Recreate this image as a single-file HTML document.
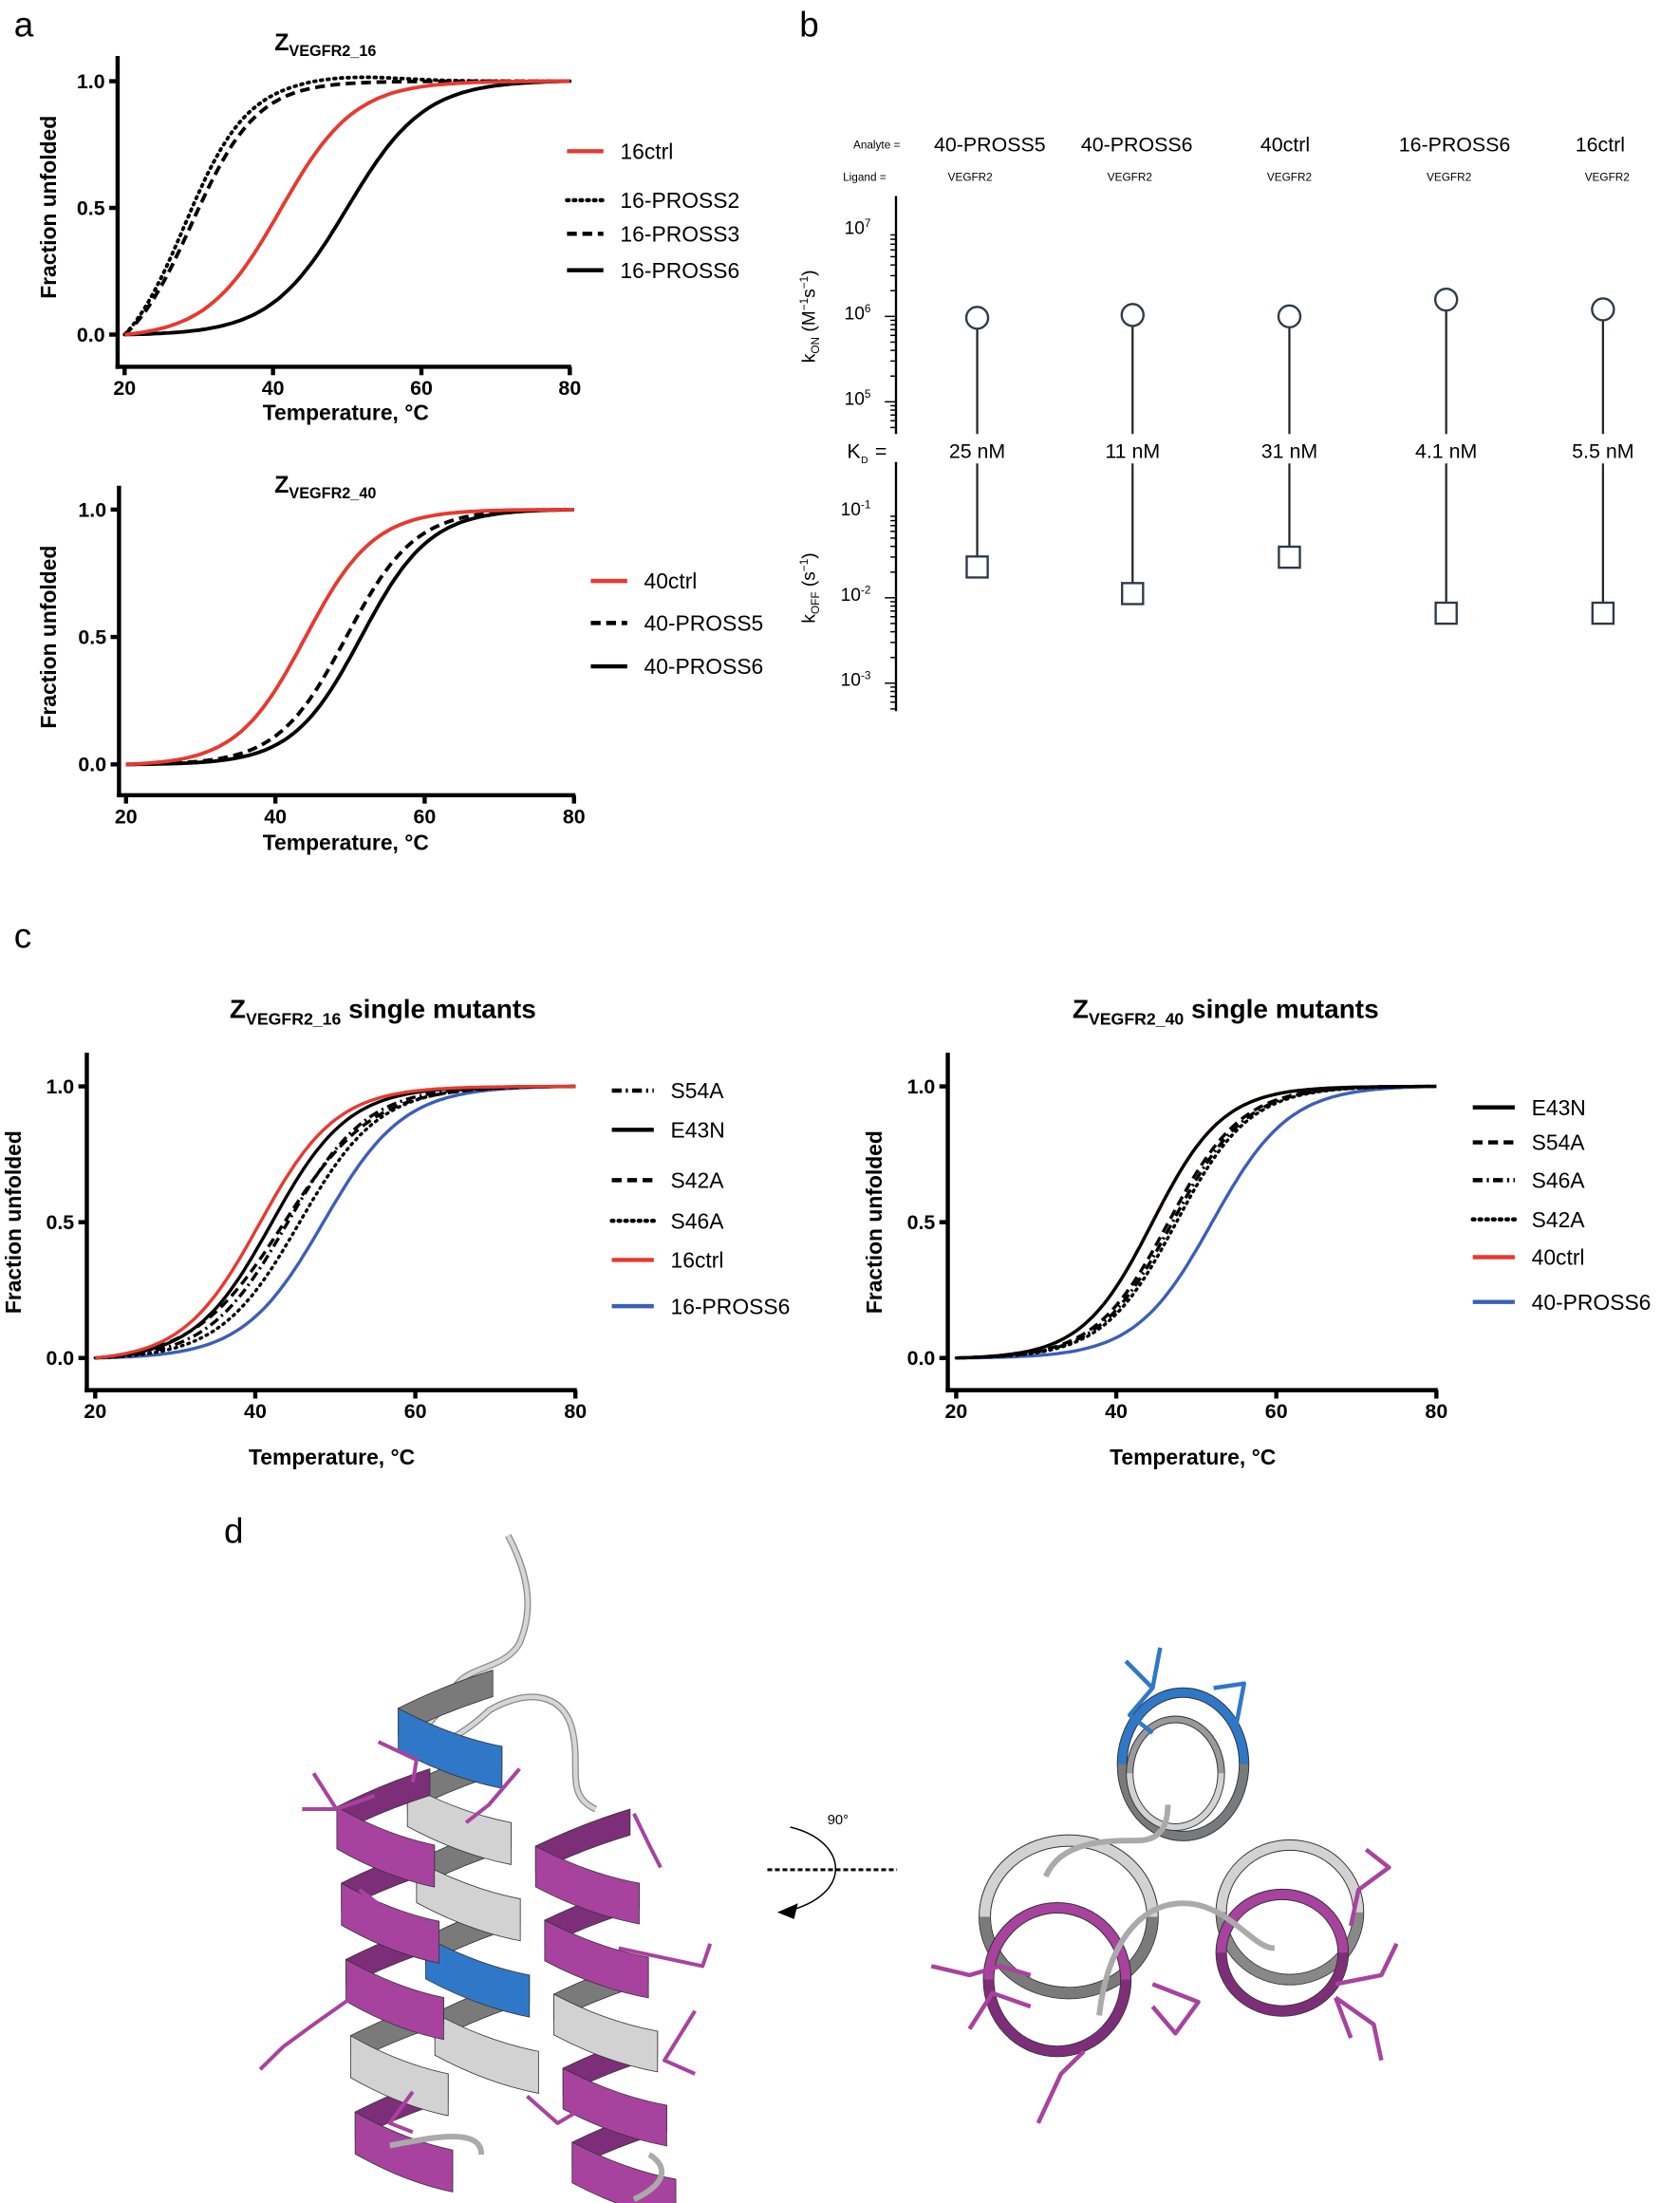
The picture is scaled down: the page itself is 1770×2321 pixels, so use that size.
<!DOCTYPE html>
<html><head><meta charset="utf-8"><style>
html,body{margin:0;padding:0;background:#fff}
svg{display:block}
text{font-family:"Liberation Sans",Arial,sans-serif}
.tk{font-size:14.5px;font-weight:bold}
.at{font-size:15.5px;font-weight:bold}
.lg{font-size:15.5px}
.pl{font-size:25px}
.bn{font-size:14.5px}
.sm{font-size:8px}
.bt{font-size:13px}
</style></head><body>
<svg id="s" width="1770" height="2321" viewBox="0 0 1200 1573.6" xmlns="http://www.w3.org/2000/svg">
<rect width="1200" height="1574" fill="#fff"/>
<text class="pl" x="10" y="26">a</text>
<text class="pl" x="571" y="26">b</text>
<text class="pl" x="10" y="677">c</text>
<text class="pl" x="160" y="1102">d</text>

<text x="196" y="36" style="font-size:17px;font-weight:bold">Z<tspan style="font-size:11px" dy="4">VEGFR2_16</tspan></text>
<text class="at" transform="translate(40,148) rotate(-90)" text-anchor="middle">Fraction unfolded</text>
<text class="at" x="247" y="300" text-anchor="middle">Temperature, °C</text>
<text x="196" y="352" style="font-size:17px;font-weight:bold">Z<tspan style="font-size:11px" dy="4">VEGFR2_40</tspan></text>
<text class="at" transform="translate(40,455) rotate(-90)" text-anchor="middle">Fraction unfolded</text>
<text class="at" x="247" y="607" text-anchor="middle">Temperature, °C</text>

<text x="164" y="727" style="font-size:19px;font-weight:bold">Z<tspan style="font-size:12px" dy="5">VEGFR2_16</tspan><tspan dy="-5"> single mutants</tspan></text>
<text x="766" y="727" style="font-size:19px;font-weight:bold">Z<tspan style="font-size:12px" dy="5">VEGFR2_40</tspan><tspan dy="-5"> single mutants</tspan></text>
<text class="at" transform="translate(15,873) rotate(-90)" text-anchor="middle">Fraction unfolded</text>
<text class="at" x="237" y="1046" text-anchor="middle">Temperature, °C</text>
<text class="at" transform="translate(630,873) rotate(-90)" text-anchor="middle">Fraction unfolded</text>
<text class="at" x="852" y="1046" text-anchor="middle">Temperature, °C</text>

<g id="plots"></g>
<g id="pb"></g>
<g id="pd"></g>
</svg>
<script>
var NS="http://www.w3.org/2000/svg";
function el(p,t,a,txt){var e=document.createElementNS(NS,t);for(var k in a)e.setAttribute(k,a[k]);if(txt!==undefined)e.textContent=txt;p.appendChild(e);return e;}
var G=document.getElementById('plots');
var styles={solid:"",dot:"1.2 3.6",dash:"7 4",dashdot:"7 3 1.5 3"};
function sig(T,tm,w){return 1/(1+Math.exp(-(T-tm)/w));}
function plot(o){
  var X=function(t){return o.x20+(t-20)*(o.x80-o.x20)/60;};
  var Y=function(f){return o.y0+(o.y1-o.y0)*f;};
  el(G,'line',{x1:o.ax,y1:o.ytop,x2:o.ax,y2:o.axy+1.5,stroke:'#000','stroke-width':3});
  el(G,'line',{x1:o.ax-1.5,y1:o.axy,x2:o.x80+1,y2:o.axy,stroke:'#000','stroke-width':3});
  [0,0.5,1].forEach(function(f){var y=Y(f);el(G,'line',{x1:o.ax-6,y1:y,x2:o.ax,y2:y,stroke:'#000','stroke-width':3});
    el(G,'text',{class:'tk',x:o.ax-9,y:y+5,'text-anchor':'end'},f.toFixed(1));});
  [20,40,60,80].forEach(function(t){var x=X(t);el(G,'line',{x1:x,y1:o.axy,x2:x,y2:o.axy+6,stroke:'#000','stroke-width':3});
    el(G,'text',{class:'tk',x:x,y:o.axy+20,'text-anchor':'middle'},t);});
  o.series.forEach(function(s){
    var a=sig(20,s.tm,s.w),b=sig(80,s.tm,s.w),d="";
    for(var t=20;t<=80.01;t+=0.5){var f=(sig(t,s.tm,s.w)-a)/(b-a);
      if(s.ov){f+=s.ov*Math.exp(-Math.pow((t-s.tm-22)/10,2));}
      d+=(t==20?"M":"L")+X(t).toFixed(1)+","+Y(f).toFixed(1);}
    el(G,'path',{d:d,fill:'none',stroke:s.c||'#000','stroke-width':o.lw,'stroke-dasharray':styles[s.st],'stroke-linecap':s.st=='dot'?'round':'butt'});
  });
  o.leg.forEach(function(l){
    el(G,'line',{x1:l.x,y1:l.y,x2:l.x+o.ll,y2:l.y,stroke:l.c||'#000','stroke-width':3,'stroke-dasharray':styles[l.st],'stroke-linecap':l.st=='dot'?'round':'butt'});
    el(G,'text',{class:'lg',x:l.x+o.ll+12,y:l.y+5.5},l.t);
  });
}
var R='#e8392f',B='#3b5fb8';
plot({ax:84,ytop:40,axy:262,x20:89,x80:407,y0:239,y1:58,lw:2.6,ll:26,
 series:[{tm:50,w:5.2,st:'solid'},{tm:28,w:4.2,st:'dot',ov:0.02},{tm:29,w:4.4,st:'dash'},{tm:41,w:5,st:'solid',c:R}],
 leg:[{x:405,y:108,t:'16ctrl',c:R,st:'solid'},{x:405,y:143,t:'16-PROSS2',st:'dot'},{x:405,y:167,t:'16-PROSS3',st:'dash'},{x:405,y:193,t:'16-PROSS6',st:'solid'}]});
plot({ax:85,ytop:347,axy:568,x20:90,x80:410,y0:546,y1:364,lw:2.6,ll:26,
 series:[{tm:51.5,w:4.6,st:'solid'},{tm:49.5,w:4.6,st:'dash'},{tm:44,w:4.6,st:'solid',c:R}],
 leg:[{x:422,y:415,t:'40ctrl',c:R,st:'solid'},{x:422,y:445,t:'40-PROSS5',st:'dash'},{x:422,y:476,t:'40-PROSS6',st:'solid'}]});
plot({ax:62,ytop:752,axy:993,x20:68,x80:411,y0:970,y1:776,lw:2.3,ll:30,
 series:[{tm:48.5,w:5,st:'solid',c:B},{tm:45.5,w:5,st:'dot'},{tm:43.5,w:5.6,st:'dash'},{tm:44,w:5,st:'dashdot'},{tm:42,w:4.8,st:'solid'},{tm:40.5,w:4.8,st:'solid',c:R}],
 leg:[{x:437,y:779,t:'S54A',st:'dashdot'},{x:437,y:807,t:'E43N',st:'solid'},{x:437,y:843,t:'S42A',st:'dash'},{x:437,y:872,t:'S46A',st:'dot'},{x:437,y:900,t:'16ctrl',c:R,st:'solid'},{x:437,y:933,t:'16-PROSS6',c:B,st:'solid'}]});
plot({ax:677,ytop:752,axy:993,x20:683,x80:1026,y0:970,y1:776,lw:2.3,ll:30,
 series:[{tm:52,w:4.8,st:'solid',c:B},{tm:47.5,w:4.6,st:'dot'},{tm:47,w:4.6,st:'dashdot'},{tm:46.5,w:4.6,st:'dash'},{tm:44.5,w:4.4,st:'solid',c:R},{tm:44.5,w:4.4,st:'solid'}],
 leg:[{x:1052,y:791,t:'E43N',st:'solid'},{x:1052,y:816,t:'S54A',st:'dash'},{x:1052,y:843,t:'S46A',st:'dashdot'},{x:1052,y:871,t:'S42A',st:'dot'},{x:1052,y:898,t:'40ctrl',c:R,st:'solid'},{x:1052,y:930,t:'40-PROSS6',c:B,st:'solid'}]});

// panel b
var P=document.getElementById('pb');
el(P,'text',{class:'sm',x:643,y:106,'text-anchor':'end'},'Analyte =');
el(P,'text',{class:'sm',x:633,y:129,'text-anchor':'end'},'Ligand =');
var xs=[698,809,921,1033,1145],names=['40-PROSS5','40-PROSS6','40ctrl','16-PROSS6','16ctrl'],nx=[707,812,918,1039,1143],
 cy=[227,225,226,214,221],sq=[405,424,398,438,438],kd=['25 nM','11 nM','31 nM','4.1 nM','5.5 nM'],lx=[693,807,921,1035,1148];
for(var i=0;i<5;i++){
 el(P,'text',{class:'bn',x:nx[i],y:108,'text-anchor':'middle'},names[i]);
 el(P,'text',{class:'sm',x:lx[i],y:129,'text-anchor':'middle'},'VEGFR2');
 el(P,'text',{class:'bn',x:xs[i],y:327,'text-anchor':'middle'},kd[i]);
 el(P,'line',{x1:xs[i],y1:cy[i]+8,x2:xs[i],y2:310,stroke:'#222','stroke-width':1.5});
 el(P,'line',{x1:xs[i],y1:331,x2:xs[i],y2:sq[i]-7.5,stroke:'#222','stroke-width':1.5});
 el(P,'circle',{cx:xs[i],cy:cy[i],r:7.8,fill:'#fff',stroke:'#2d3a4a','stroke-width':1.6});
 el(P,'rect',{x:xs[i]-7.5,y:sq[i]-7.5,width:15,height:15,fill:'#fff',stroke:'#2d3a4a','stroke-width':1.6});
}
el(P,'text',{class:'bn',x:605,y:327},'K');
el(P,'text',{style:'font-size:7px',x:615,y:331},'D');
el(P,'text',{class:'bn',x:625,y:327},'=');
function logax(top,bot,majY,exps){
 el(P,'line',{x1:640,y1:top,x2:640,y2:bot,stroke:'#000','stroke-width':1.6});
 var dec=61;
 for(var m=-1;m<=exps.length;m++){var base=majY+m*dec;
  for(var k=1;k<=9;k++){var y=base-dec*Math.log10(k);if(y<top||y>bot)continue;
   el(P,'line',{x1:k==1?632:636,y1:y,x2:640,y2:y,stroke:'#000','stroke-width':1});}}
 exps.forEach(function(e,j){var y=majY-j*dec;
  var t=el(P,'text',{class:'bt',x:622,y:y+2,'text-anchor':'end'});
  t.textContent='10';el(t,'tspan',{dy:-5,style:'font-size:8px'},String(e));});
}
logax(140,310,287,['5','6','7']);
logax(330,508,488,['-3','-2','-1']);
var t1=el(P,'text',{transform:'translate(582,226) rotate(-90)','text-anchor':'middle',style:'font-size:13px'});
t1.innerHTML='k<tspan style="font-size:8px" dy="3">ON</tspan><tspan dy="-3"> (M</tspan><tspan style="font-size:8px" dy="-5">−1</tspan><tspan dy="5">s</tspan><tspan style="font-size:8px" dy="-5">−1</tspan><tspan dy="5">)</tspan>';
var t2=el(P,'text',{transform:'translate(582,420) rotate(-90)','text-anchor':'middle',style:'font-size:13px'});
t2.innerHTML='k<tspan style="font-size:8px" dy="3">OFF</tspan><tspan dy="-3"> (s</tspan><tspan style="font-size:8px" dy="-5">−1</tspan><tspan dy="5">)</tspan>';

// panel d
var D=document.getElementById('pd');
var g=el(D,'g',{transform:'translate(169.5,1071.2) scale(0.5448,0.3204)'});
var PU='#a8429f',PUd='#7d2e78',GR='#d2d2d2',GRd='#7a7a7a',BL='#2f78c8';
function ns(o){o['vector-effect']='non-scaling-stroke';return o;}
function band(xl,yl,xr,yr,t,fill,bow){
 var mx=(xl+xr)/2,my=(yl+yr)/2+bow;
 var d='M'+xl+','+yl+' Q'+mx+','+my+' '+xr+','+yr+' L'+xr+','+(yr+t)+' Q'+mx+','+(my+t)+' '+xl+','+(yl+t)+' Z';
 el(g,'path',ns({d:d,fill:fill,stroke:'#333','stroke-width':0.8}));
}
function helix(x0,y0,x1,y1,turn,w,cols){
 var n=Math.round((y1-y0)/turn);
 for(var i=0;i<n;i++){
  var ya=y0+i*turn,yb=ya+turn/2,yc=ya+turn;
  var xa=x0+(x1-x0)*i/n,xb=x0+(x1-x0)*(i+0.5)/n,xc=x0+(x1-x0)*(i+1)/n;
  var col=cols[i%cols.length];
  band(xa+w/2,ya,xb-w/2,yb,turn*0.35,col=='p'?PUd:GRd,-10);
 }
 for(var i=0;i<n;i++){
  var ya=y0+i*turn,yb=ya+turn/2,yc=ya+turn;
  var xb=x0+(x1-x0)*(i+0.5)/n,xc=x0+(x1-x0)*(i+1)/n;
  var col=cols[i%cols.length];
  band(xb-w/2,yb,xc+w/2,yc,turn*0.55,col=='p'?PU:(col=='b'?BL:GR),20);
 }
}
var tail='M355,80 C380,160 390,240 370,320 C350,380 300,370 285,420 C270,480 240,500 240,540 C250,570 300,520 330,470 C380,420 430,430 440,520 C450,600 430,660 470,690';
el(g,'path',ns({d:tail,fill:'none',stroke:'#888','stroke-width':7}));
el(g,'path',ns({d:tail,fill:'none',stroke:'#d6d6d6','stroke-width':4.5}));
helix(270,380,330,1300,170,130,['b','g','g','b','g','b']);
helix(190,600,220,1470,170,125,['p','p','p','g','p','p']);
helix(450,690,510,1470,165,130,['p','p','g','p','p']);
el(g,'path',ns({d:'M200,1440 C260,1420 320,1400 320,1460 M540,1460 C560,1480 570,1520 520,1560',fill:'none',stroke:'#aaa','stroke-width':6}));
var sc=['M185,540 L235,580 L230,630','M100,610 L130,690 L85,690 M130,690 L180,660','M370,600 L330,680 L300,720','M520,700 L540,770 L555,820','M500,1000 L610,1040 L620,990','M160,870 L200,920 L150,930','M150,1110 L100,1170 L60,1220 L30,1270','M600,1140 L560,1250 L600,1280','M380,1330 L420,1390 L450,1360','M230,1320 L200,1390 L230,1410'];
sc.forEach(function(d){el(g,'path',ns({d:d,fill:'none',stroke:PU,'stroke-width':4,'stroke-linejoin':'round'}));});
el(g,'line',ns({x1:695,y1:825,x2:865,y2:825,stroke:'#000','stroke-width':3,'stroke-dasharray':'5 3'}));
el(g,'path',ns({d:'M725,730 C800,760 810,880 720,918',fill:'none',stroke:'#000','stroke-width':1.5}));
el(g,'path',{d:'M708,920 L735,900 L730,935 Z',fill:'#000'});
function ring(cx,cy,rx,ry,c1,c2,wd){
 el(g,'ellipse',ns({cx:cx,cy:cy,rx:rx,ry:ry,fill:'none',stroke:'#333','stroke-width':wd+2}));
 el(g,'ellipse',ns({cx:cx,cy:cy,rx:rx,ry:ry,fill:'none',stroke:c1,'stroke-width':wd}));
 el(g,'path',ns({d:'M'+(cx-rx)+','+cy+' A'+rx+','+ry+' 0 0 0 '+(cx+rx)+','+cy,fill:'none',stroke:c2,'stroke-width':wd}));
}
ring(1240,590,80,160,BL,GRd,9);ring(1230,610,60,120,'#999',GR,6);
ring(1090,930,110,170,GR,GRd,11);ring(1075,1070,90,160,PU,PUd,10);
ring(1380,920,90,150,GR,'#888',10);ring(1370,1010,80,130,PU,PUd,10);
el(g,'path',ns({d:'M1060,840 C1080,760 1140,760 1180,760 C1220,760 1220,700 1220,680 M1130,1150 C1140,1000 1180,900 1240,900 C1300,900 1330,1000 1360,1000',fill:'none',stroke:'#aaa','stroke-width':6}));
var sc2=['M1165,360 L1200,420 L1170,480 L1200,520 M1210,330 L1200,420','M1280,420 L1320,410 L1310,500','M1480,780 L1510,820 L1470,870 L1460,950','M910,1040 L960,1060 L1000,1040 L1040,1060','M960,1180 L990,1100 L1040,1130','M1200,1080 L1260,1120 L1230,1190 L1200,1130','M1440,1110 L1490,1170 L1500,1250 M1440,1110 L1460,1200','M1050,1390 L1080,1280 L1110,1230','M1520,990 L1500,1060 L1440,1080'];
sc2.forEach(function(d,i){el(g,'path',ns({d:d,fill:'none',stroke:i<2?BL:PU,'stroke-width':4.5,'stroke-linejoin':'round'}));});
el(D,'text',{x:591,y:1303,style:'font-size:10px'},'90°');
</script>
</body></html>
